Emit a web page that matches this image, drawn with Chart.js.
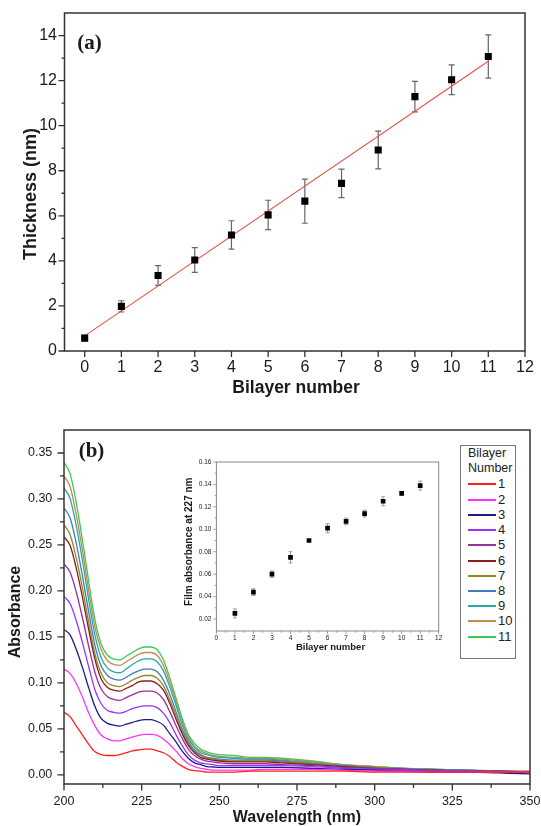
<!DOCTYPE html>
<html><head><meta charset="utf-8">
<script src="https://cdn.jsdelivr.net/npm/chart.js@4.4.0/dist/chart.umd.min.js"></script>
<style>
html,body{margin:0;padding:0;background:#fff;overflow:hidden;}
body{width:541px;height:826px;position:relative;font-family:"Liberation Sans",Arial,sans-serif;}
canvas{position:absolute;display:block;}
#legend{position:absolute;left:460px;top:445px;width:56px;height:214px;border:1px solid #777;box-sizing:border-box;background:#fff;color:#222;z-index:5;}
#legend .t{position:absolute;left:7px;font-size:12.5px;line-height:15px;}
#legend .ln{position:absolute;left:7px;width:28px;height:2px;}
#legend .nm{position:absolute;left:37px;font-size:13px;line-height:14px;}
</style></head><body>
<canvas id="ca" width="541" height="405" style="left:0;top:0"></canvas>
<canvas id="cb" width="541" height="430" style="left:0;top:405px"></canvas>
<canvas id="ci" width="280" height="205" style="left:170px;top:455px;z-index:3"></canvas>
<div id="legend"></div>
<script>
// ---------- Panel (a) data ----------
const bilayerNumbers = [0,1,2,3,4,5,6,7,8,9,10,11];
const thicknessNm = [0.57,1.98,3.35,4.04,5.15,6.04,6.65,7.44,8.92,11.29,12.04,13.07];
const thicknessErr = [0.12,0.25,0.44,0.55,0.63,0.65,0.98,0.63,0.84,0.68,0.66,0.96];
const fitX = [0, 11];
const fitY = [0.67, 12.86];
const aXTicks = [0,1,2,3,4,5,6,7,8,9,10,11,12];
const aYTicks = [0,2,4,6,8,10,12,14];
const aYMinor = [1,3,5,7,9,11,13];

// ---------- Panel (b) data ----------
const wavelengths = [200,202,204,206,208,210,212,214,216,218,220,222,224,226,228,230,232,234,236,238,240,242,244,246,248,250,255,260,265,270,280,290,300,310,320,330,340,350];
const abs1  = [0.068,0.063,0.053,0.043,0.033,0.025,0.022,0.021,0.021,0.022,0.024,0.026,0.027,0.028,0.028,0.026,0.024,0.020,0.014,0.0095,0.006,0.0045,0.004,0.003,0.003,0.003,0.003,0.004,0.004,0.004,0.004,0.004,0.003,0.003,0.003,0.003,0.003,0.003];
const abs2  = [0.115,0.110,0.099,0.084,0.067,0.053,0.043,0.039,0.037,0.037,0.039,0.041,0.043,0.044,0.044,0.043,0.039,0.033,0.026,0.018,0.012,0.009,0.007,0.006,0.005,0.005,0.005,0.005,0.006,0.006,0.006,0.005,0.004,0.004,0.003,0.003,0.003,0.003];
const abs3  = [0.158,0.152,0.136,0.116,0.094,0.074,0.061,0.056,0.054,0.053,0.055,0.057,0.059,0.060,0.060,0.058,0.054,0.045,0.036,0.026,0.018,0.013,0.011,0.009,0.0085,0.008,0.008,0.008,0.008,0.008,0.007,0.006,0.005,0.004,0.003,0.003,0.002,0.001];
const abs4  = [0.194,0.186,0.167,0.143,0.117,0.092,0.077,0.070,0.068,0.067,0.069,0.072,0.074,0.075,0.075,0.073,0.067,0.057,0.044,0.032,0.022,0.016,0.013,0.012,0.011,0.010,0.010,0.010,0.010,0.010,0.009,0.007,0.006,0.005,0.004,0.004,0.003,0.003];
const abs5  = [0.229,0.220,0.198,0.170,0.139,0.111,0.093,0.085,0.082,0.081,0.084,0.087,0.090,0.091,0.091,0.089,0.082,0.069,0.054,0.040,0.028,0.021,0.017,0.015,0.014,0.013,0.012,0.012,0.012,0.011,0.010,0.008,0.007,0.006,0.005,0.004,0.003,0.003];
const abs6  = [0.259,0.249,0.224,0.192,0.157,0.125,0.104,0.095,0.092,0.091,0.094,0.097,0.101,0.102,0.102,0.099,0.092,0.078,0.061,0.045,0.032,0.024,0.019,0.017,0.016,0.015,0.014,0.014,0.014,0.013,0.011,0.009,0.007,0.006,0.005,0.004,0.004,0.003];
const abs7  = [0.272,0.261,0.235,0.202,0.165,0.131,0.110,0.100,0.097,0.096,0.099,0.103,0.106,0.108,0.108,0.105,0.097,0.082,0.065,0.047,0.034,0.025,0.021,0.018,0.017,0.016,0.015,0.015,0.015,0.014,0.012,0.009,0.008,0.006,0.005,0.004,0.004,0.003];
const abs8  = [0.290,0.279,0.251,0.215,0.176,0.140,0.118,0.108,0.104,0.103,0.106,0.110,0.113,0.115,0.115,0.112,0.103,0.088,0.069,0.050,0.036,0.027,0.022,0.019,0.018,0.017,0.016,0.016,0.016,0.015,0.012,0.010,0.008,0.006,0.005,0.005,0.004,0.003];
const abs9  = [0.312,0.300,0.270,0.232,0.189,0.151,0.127,0.116,0.112,0.111,0.115,0.120,0.124,0.126,0.126,0.123,0.113,0.096,0.076,0.055,0.039,0.030,0.024,0.022,0.020,0.019,0.018,0.017,0.017,0.016,0.013,0.010,0.008,0.007,0.006,0.005,0.004,0.003];
const abs10 = [0.325,0.313,0.282,0.243,0.199,0.160,0.136,0.124,0.120,0.119,0.123,0.127,0.131,0.133,0.133,0.130,0.119,0.101,0.080,0.058,0.042,0.031,0.026,0.023,0.021,0.020,0.019,0.018,0.018,0.017,0.014,0.011,0.009,0.007,0.006,0.005,0.004,0.004];
const abs11 = [0.340,0.327,0.295,0.254,0.209,0.168,0.142,0.130,0.126,0.125,0.129,0.133,0.137,0.139,0.139,0.136,0.125,0.106,0.084,0.062,0.044,0.034,0.028,0.025,0.023,0.022,0.021,0.019,0.019,0.018,0.015,0.011,0.009,0.007,0.006,0.005,0.004,0.004];
const spectra = [abs1,abs2,abs3,abs4,abs5,abs6,abs7,abs8,abs9,abs10,abs11];
const seriesLabels = ['1','2','3','4','5','6','7','8','9','10','11'];
const seriesColors = ['#ff1f1f','#ff33ff','#1c1c86','#9a33ff','#98309a','#8c1c1c','#8e8c22','#3f7cba','#2aa8aa','#c48a4e','#3ccc55'];
const bXTicks = [200,225,250,275,300,325,350];
const bXMinor = [212.5,237.5,262.5,287.5,312.5,337.5];
const bYTicks = [0,0.05,0.10,0.15,0.20,0.25,0.30,0.35];
const bYMinor = [0.025,0.075,0.125,0.175,0.225,0.275,0.325];

// ---------- Inset data ----------
const insetBilayers = [1,2,3,4,5,6,7,8,9,10,11];
const insetAbs227 = [0.025,0.044,0.060,0.075,0.090,0.101,0.107,0.114,0.125,0.132,0.139];
const insetErr = [0.004,0.003,0.0028,0.005,0.001,0.004,0.003,0.003,0.004,0.0015,0.004];
const iXTicks = [0,1,2,3,4,5,6,7,8,9,10,11,12];
const iXMinor = [0.5,1.5,2.5,3.5,4.5,5.5,6.5,7.5,8.5,9.5,10.5,11.5];
const iYTicks = [0.02,0.04,0.06,0.08,0.10,0.12,0.14,0.16];
const iYMinor = [0.03,0.05,0.07,0.09,0.11,0.13,0.15];

const SANS = "'Liberation Sans', Arial, sans-serif";
const SERIF = "'Liberation Serif', 'Times New Roman', serif";
Chart.defaults.font.family = SANS;

const decor = {
  id: 'decor',
  beforeDatasetsDraw(chart, args, o) {
    const ctx = chart.ctx, xs = chart.scales.x, ys = chart.scales.y;
    (o.errorBars || []).forEach(eb => {
      const ds = chart.data.datasets[eb.dataset];
      ctx.save(); ctx.strokeStyle = eb.color; ctx.lineWidth = eb.width;
      ctx.beginPath();
      ds.data.forEach((p, i) => {
        const e = eb.errors[i];
        const x = xs.getPixelForValue(p.x);
        const y1 = ys.getPixelForValue(p.y - e), y2 = ys.getPixelForValue(p.y + e);
        ctx.moveTo(x, y1); ctx.lineTo(x, y2);
        ctx.moveTo(x - eb.cap, y1); ctx.lineTo(x + eb.cap, y1);
        ctx.moveTo(x - eb.cap, y2); ctx.lineTo(x + eb.cap, y2);
      });
      ctx.stroke(); ctx.restore();
    });
  },
  afterDraw(chart, args, o) {
    const ctx = chart.ctx, a = chart.chartArea, xs = chart.scales.x, ys = chart.scales.y;
    ctx.save();
    ctx.strokeStyle = o.frameColor; ctx.lineWidth = o.frameWidth;
    ctx.strokeRect(a.left, a.top, a.right - a.left, a.bottom - a.top);
    ctx.lineWidth = o.tickWidth;
    ctx.beginPath();
    const tx = (arr, len) => arr.forEach(v => { const x = xs.getPixelForValue(v); ctx.moveTo(x, a.bottom); ctx.lineTo(x, a.bottom + len); });
    const ty = (arr, len) => arr.forEach(v => { const y = ys.getPixelForValue(v); ctx.moveTo(a.left, y); ctx.lineTo(a.left - len, y); });
    tx(o.xMajor || [], o.majorLen); tx(o.xMinor || [], o.minorLen);
    ty(o.yMajor || [], o.majorLen); ty(o.yMinor || [], o.minorLen);
    ctx.stroke();
    (o.texts || []).forEach(t => {
      ctx.save(); ctx.font = t.font; ctx.fillStyle = t.color || '#1a1a1a';
      ctx.textAlign = 'center'; ctx.textBaseline = 'middle';
      ctx.translate(t.x, t.y); if (t.rot) ctx.rotate(t.rot);
      ctx.fillText(t.text, 0, 0); ctx.restore();
    });
    ctx.restore();
  }
};

// gap = distance between axis line and tick labels (invisible tick length, zero padding)
function axisX(min, max, ticksArr, h, gap, size, fmt) {
  return { type: 'linear', min, max,
    afterFit: s => { s.height = h; },
    afterBuildTicks: s => { s.ticks = ticksArr.map(v => ({ value: v })); },
    grid: { display: false, drawTicks: true, tickLength: gap, tickColor: 'rgba(0,0,0,0)' }, border: { display: false },
    ticks: { font: { size, family: SANS }, color: '#1a1a1a', padding: 0, maxRotation: 0, autoSkip: false, callback: fmt } };
}
function axisY(min, max, ticksArr, w, gap, size, fmt) {
  return { type: 'linear', min, max,
    afterFit: s => { s.width = w; },
    afterBuildTicks: s => { s.ticks = ticksArr.map(v => ({ value: v })); },
    grid: { display: false, drawTicks: true, tickLength: gap, tickColor: 'rgba(0,0,0,0)' }, border: { display: false },
    ticks: { font: { size, family: SANS }, color: '#1a1a1a', padding: 0, autoSkip: false, callback: fmt } };
}

// ---------- Chart (a) ----------
new Chart(document.getElementById('ca'), {
  type: 'scatter',
  data: { datasets: [
    { data: bilayerNumbers.map((x, i) => ({ x, y: thicknessNm[i] })), pointStyle: 'rect', pointRadius: 5, backgroundColor: '#000', borderColor: '#000', borderWidth: 0, order: 0 },
    { type: 'line', data: fitX.map((x, i) => ({ x, y: fitY[i] })), borderColor: '#e8504a', borderWidth: 1.1, pointRadius: 0, fill: false, order: 1 }
  ]},
  options: {
    responsive: false, animation: false, events: [],
    layout: { padding: { top: 13, right: 16, left: 0, bottom: 0 } },
    plugins: { legend: { display: false }, tooltip: { enabled: false },
      decor: { frameColor: '#333', frameWidth: 1.5, tickWidth: 1.3, majorLen: 6, minorLen: 3,
        xMajor: aXTicks, yMajor: aYTicks, yMinor: aYMinor,
        errorBars: [{ dataset: 0, errors: thicknessErr, color: '#666', width: 1.2, cap: 3 }],
        texts: [
          { text: 'Thickness (nm)', x: 31, y: 194, rot: -Math.PI / 2, font: "bold 18px " + SANS },
          { text: 'Bilayer number', x: 296, y: 388, font: "bold 17.5px " + SANS },
          { text: '(a)', x: 89.5, y: 44, font: "bold 21px " + SERIF }
        ] } },
    scales: {
      x: axisX(-0.55, 12, aXTicks, 54, 7.4, 16, v => String(v)),
      y: axisY(0, 15, aYTicks, 64.5, 7.5, 16, v => String(v))
    }
  },
  plugins: [decor]
});

// ---------- Chart (b) ----------
new Chart(document.getElementById('cb'), {
  type: 'line',
  data: { datasets: spectra.map((arr, k) => ({
    label: seriesLabels[k], data: wavelengths.map((w, i) => ({ x: w, y: arr[i] })),
    borderColor: seriesColors[k], borderWidth: 1.3, pointRadius: 0, fill: false,
    cubicInterpolationMode: 'monotone' })) },
  options: {
    responsive: false, animation: false, events: [],
    layout: { padding: { top: 25, right: 11, left: 0, bottom: 0 } },
    plugins: { legend: { display: false }, tooltip: { enabled: false },
      decor: { frameColor: '#333', frameWidth: 1.5, tickWidth: 1.3, majorLen: 6.5, minorLen: 4,
        xMajor: bXTicks, xMinor: bXMinor, yMajor: bYTicks, yMinor: bYMinor,
        texts: [
          { text: 'Absorbance', x: 16, y: 207, rot: -Math.PI / 2, font: "bold 16px " + SANS },
          { text: 'Wavelength (nm)', x: 297, y: 413, font: "bold 16px " + SANS },
          { text: '(b)', x: 91.5, y: 47, font: "bold 21px " + SERIF }
        ] } },
    scales: {
      x: axisX(200, 350, bXTicks, 51, 9.9, 12.5, v => String(v)),
      y: axisY(-0.010, 0.375, bYTicks, 64, 11.7, 12.5, v => v.toFixed(2))
    }
  },
  plugins: [decor]
});

// ---------- Inset ----------
new Chart(document.getElementById('ci'), {
  type: 'scatter',
  data: { datasets: [
    { data: insetBilayers.map((x, i) => ({ x, y: insetAbs227[i] })), pointStyle: 'rect', pointRadius: 3.3, backgroundColor: '#000', borderColor: '#000', borderWidth: 0 }
  ]},
  options: {
    responsive: false, animation: false, events: [],
    layout: { padding: { top: 7, right: 11.3, left: 0, bottom: 0 } },
    plugins: { legend: { display: false }, tooltip: { enabled: false },
      decor: { frameColor: '#888', frameWidth: 1, tickWidth: 0.8, majorLen: 3, minorLen: 1.8,
        xMajor: iXTicks, xMinor: iXMinor, yMajor: iYTicks, yMinor: iYMinor,
        errorBars: [{ dataset: 0, errors: insetErr, color: '#888', width: 0.8, cap: 2 }],
        texts: [
          { text: 'Film absorbance at 227 nm', x: 18.8, y: 86.7, rot: -Math.PI / 2, font: "bold 10px " + SANS },
          { text: 'Bilayer number', x: 160.5, y: 192.7, font: "bold 9.5px " + SANS }
        ] } },
    scales: {
      x: axisX(0, 12, iXTicks, 29, 3.4, 6.5, v => String(v)),
      y: axisY(0.0093, 0.16, iYTicks, 46.4, 5, 6.5, v => v.toFixed(2))
    }
  },
  plugins: [decor]
});

// ---------- Legend ----------
(function () {
  const lg = document.getElementById('legend');
  let html = '<div class="t" style="top:0px">Bilayer</div><div class="t" style="top:15px">Number</div>';
  seriesLabels.forEach((s, i) => {
    const cy = 483.3 - 445 + i * 15.24;
    html += '<div class="ln" style="top:' + (cy - 1) + 'px;background:' + seriesColors[i] + '"></div>';
    html += '<div class="nm" style="top:' + (cy - 7) + 'px">' + s + '</div>';
  });
  lg.innerHTML = html;
})();
</script>
</body></html>
